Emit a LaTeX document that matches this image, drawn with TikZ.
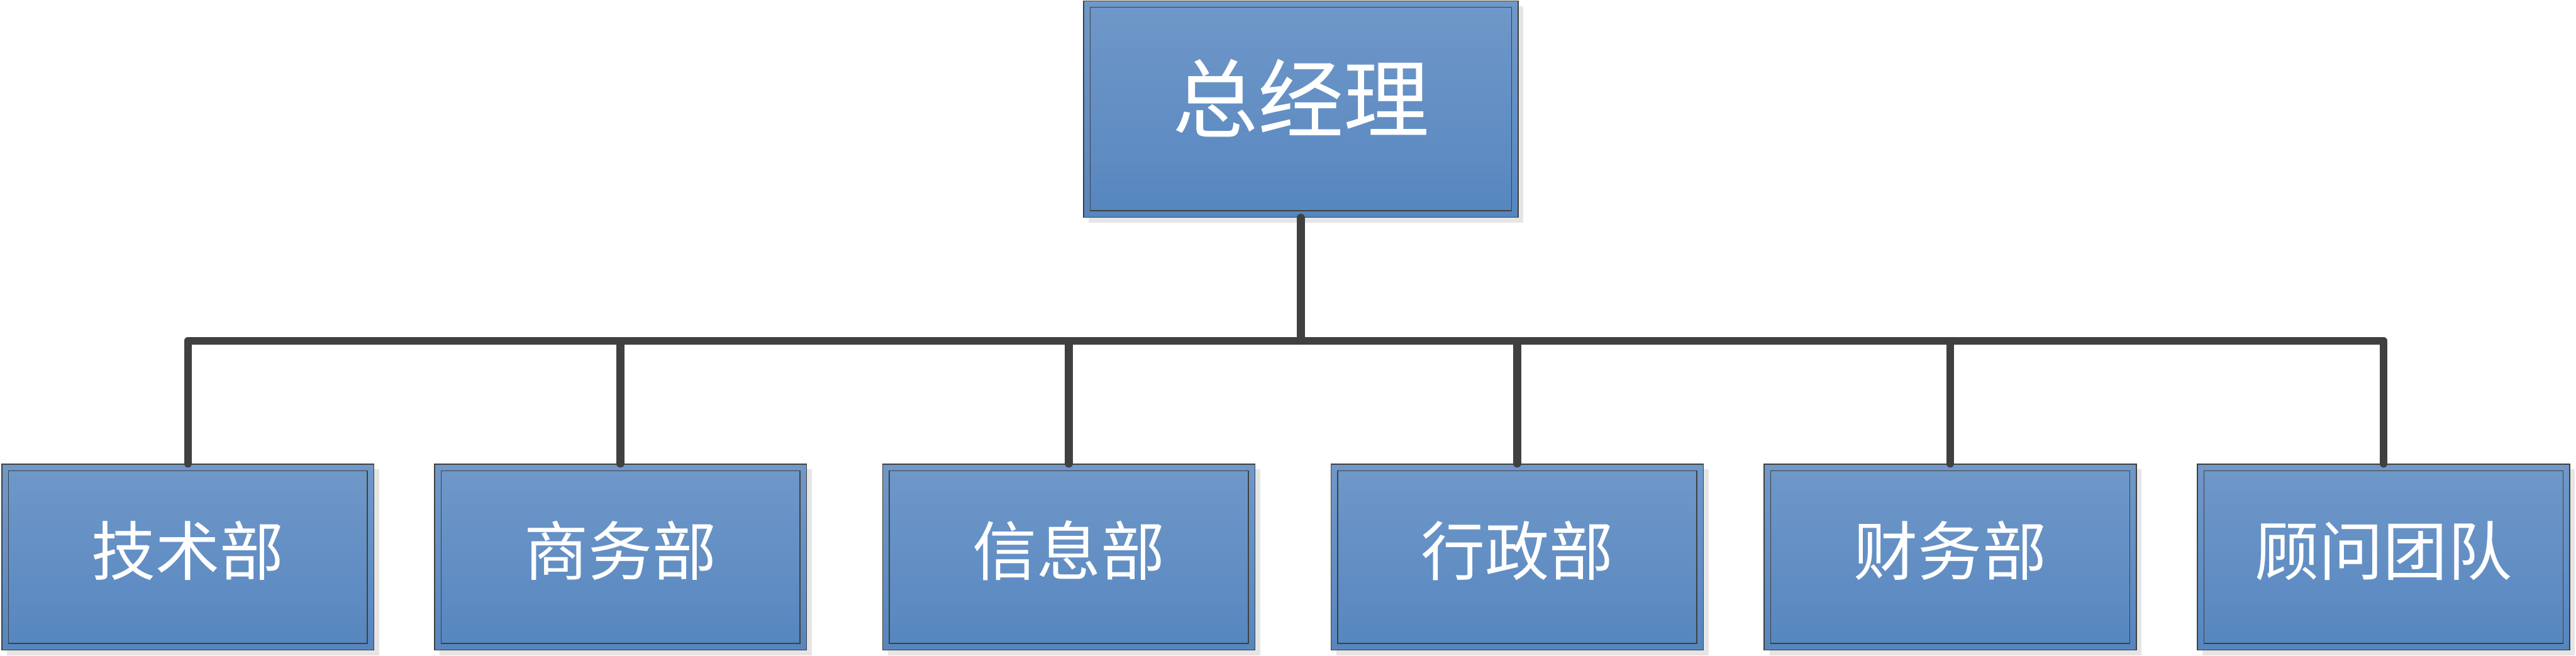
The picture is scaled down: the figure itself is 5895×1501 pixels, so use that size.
\documentclass[tikz,border=0pt]{standalone}
\usepackage{fontspec}
\newfontfamily\cjk{Noto Sans CJK SC}
\usetikzlibrary{shadows}
\definecolor{framec}{RGB}{64,64,64}
\definecolor{boxtop}{RGB}{112,152,201}
\definecolor{boxbot}{RGB}{86,134,191}
\definecolor{shadowc}{RGB}{229,229,229}
\begin{document}
\begin{tikzpicture}[x=0.01cm,y=-0.01cm,
  orgbox/.style={rectangle, draw=framec, line width=0.6pt,
    top color=boxtop, bottom color=boxbot, inner sep=0pt,
    general shadow={fill=shadowc, shadow xshift=0.12cm, shadow yshift=-0.12cm},
    path picture={\draw[framec, line width=0.6pt]
      ([shift={(0.15cm,-0.15cm)}]path picture bounding box.north west) rectangle
      ([shift={(-0.15cm,0.15cm)}]path picture bounding box.south east);}},
  topbox/.style={orgbox, minimum width=9.94cm, minimum height=4.95cm},
  deptbox/.style={orgbox, minimum width=8.51cm, minimum height=4.25cm},
  toplabel/.style={text=white, inner sep=0pt, yshift=0.245cm,
    font=\cjk\fontsize{55.8pt}{60pt}\selectfont},
  deptlabel/.style={text=white, inner sep=0pt, yshift=0.145cm,
    font=\cjk\fontsize{41.8pt}{46pt}\selectfont},
  conn/.style={draw=framec, line width=0.18cm, line cap=round, line join=round}]
\useasboundingbox (0,0) rectangle (5895,1501);

\node[topbox, label={[toplabel]center:总经理}] (top) at (2977,249.5) {};

\node[deptbox, label={[deptlabel]center:技术部}] (b1) at (430,1274.5) {};
\node[deptbox, label={[deptlabel]center:商务部}] (b2) at (1420,1274.5) {};
\node[deptbox, label={[deptlabel]center:信息部}] (b3) at (2446,1274.5) {};
\node[deptbox, label={[deptlabel]center:行政部}] (b4) at (3472,1274.5) {};
\node[deptbox, label={[deptlabel]center:财务部}] (b5) at (4463,1274.5) {};
\node[deptbox, label={[deptlabel]center:顾问团队}] (b6) at (5454.5,1274.5) {};

\coordinate (j) at (2977,780);
\draw[conn] (top.south) -- (j);
\foreach \b in {b1,b2,b3,b4,b5,b6}
  \draw[conn] (j) -| (\b.north);
\end{tikzpicture}
\end{document}
